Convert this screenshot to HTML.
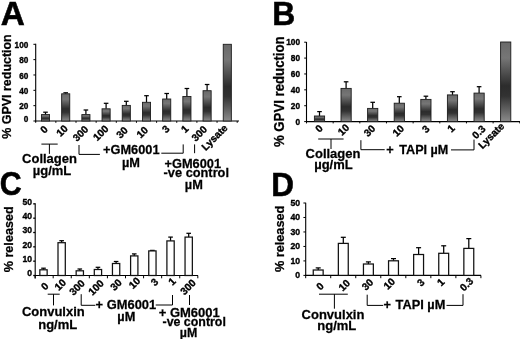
<!DOCTYPE html>
<html><head><meta charset="utf-8"><title>Figure</title>
<style>html,body{margin:0;padding:0;background:#fff;}svg{display:block;}</style></head><body>
<svg width="520" height="339" viewBox="0 0 520 339" font-family="Liberation Sans, sans-serif" font-weight="bold" fill="#000">
<defs><linearGradient id="g" x1="0" y1="0" x2="0" y2="1"><stop offset="0" stop-color="#6a6a6a"/><stop offset="0.2" stop-color="#767676"/><stop offset="0.55" stop-color="#2c2c2c"/><stop offset="0.68" stop-color="#323232"/><stop offset="1" stop-color="#8c8c8c"/></linearGradient></defs>
<rect width="520" height="339" fill="#fff"/>
<text transform="translate(0.77,24.80) scale(1.11,1.08)" font-size="30.0" stroke="#000" stroke-width="0.5">A</text>
<text transform="translate(272.17,24.80) scale(1.06,1.09)" font-size="30.0" stroke="#000" stroke-width="0.5">B</text>
<text transform="translate(-0.15,195.28) scale(1.01,1.09)" font-size="30.0" stroke="#000" stroke-width="0.5">C</text>
<text transform="translate(271.28,196.10) scale(1.05,1.11)" font-size="30.0" stroke="#000" stroke-width="0.5">D</text>
<line x1="35.7" y1="43.8" x2="35.7" y2="121.5" stroke="#000" stroke-width="1.1"/>
<line x1="35.2" y1="121.0" x2="239" y2="121.0" stroke="#000" stroke-width="1.15"/>
<line x1="33.40" y1="121.0" x2="35.7" y2="121.0" stroke="#000" stroke-width="1"/>
<text transform="translate(28.3,122.4) scale(1,1.04)" font-size="8.2" text-anchor="end" stroke="#000" stroke-width="0.35" >0</text>
<line x1="33.40" y1="105.66" x2="35.7" y2="105.66" stroke="#000" stroke-width="1"/>
<text transform="translate(28.3,109.26) scale(1,1.04)" font-size="8.2" text-anchor="end" stroke="#000" stroke-width="0.35" >20</text>
<line x1="33.40" y1="90.32" x2="35.7" y2="90.32" stroke="#000" stroke-width="1"/>
<text transform="translate(28.3,93.92) scale(1,1.04)" font-size="8.2" text-anchor="end" stroke="#000" stroke-width="0.35" >40</text>
<line x1="33.40" y1="74.98" x2="35.7" y2="74.98" stroke="#000" stroke-width="1"/>
<text transform="translate(28.3,78.58) scale(1,1.04)" font-size="8.2" text-anchor="end" stroke="#000" stroke-width="0.35" >60</text>
<line x1="33.40" y1="59.64" x2="35.7" y2="59.64" stroke="#000" stroke-width="1"/>
<text transform="translate(28.3,63.24) scale(1,1.04)" font-size="8.2" text-anchor="end" stroke="#000" stroke-width="0.35" >80</text>
<line x1="33.40" y1="44.3" x2="35.7" y2="44.3" stroke="#000" stroke-width="1"/>
<text transform="translate(28.3,47.9) scale(1,1.04)" font-size="8.2" text-anchor="end" stroke="#000" stroke-width="0.35" >100</text>
<text transform="translate(11.2,86.5) rotate(-90) scale(0.93,1)" font-size="13.4" text-anchor="middle" stroke="#000" stroke-width="0.25">% GPVI reduction</text>
<line x1="45.5" y1="112.2" x2="45.5" y2="114.6" stroke="#000" stroke-width="1.25"/>
<line x1="43.2" y1="112.2" x2="47.8" y2="112.2" stroke="#000" stroke-width="1.25"/>
<rect x="41.45" y="114.6" width="8.1" height="6.40" fill="url(#g)" stroke="#1c1c1c" stroke-width="0.9"/>
<line x1="65.7" y1="92.8" x2="65.7" y2="93.8" stroke="#000" stroke-width="1.25"/>
<line x1="63.40" y1="92.8" x2="68.0" y2="92.8" stroke="#000" stroke-width="1.25"/>
<rect x="61.65" y="93.8" width="8.1" height="27.20" fill="url(#g)" stroke="#1c1c1c" stroke-width="0.9"/>
<line x1="85.9" y1="110" x2="85.9" y2="114.6" stroke="#000" stroke-width="1.25"/>
<line x1="83.60" y1="110" x2="88.2" y2="110" stroke="#000" stroke-width="1.25"/>
<rect x="81.85" y="114.6" width="8.1" height="6.40" fill="url(#g)" stroke="#1c1c1c" stroke-width="0.9"/>
<line x1="106.1" y1="103.3" x2="106.1" y2="108.8" stroke="#000" stroke-width="1.25"/>
<line x1="103.8" y1="103.3" x2="108.40" y2="103.3" stroke="#000" stroke-width="1.25"/>
<rect x="102.05" y="108.8" width="8.1" height="12.20" fill="url(#g)" stroke="#1c1c1c" stroke-width="0.9"/>
<line x1="126.3" y1="101.3" x2="126.3" y2="105.4" stroke="#000" stroke-width="1.25"/>
<line x1="124.0" y1="101.3" x2="128.60" y2="101.3" stroke="#000" stroke-width="1.25"/>
<rect x="122.25" y="105.4" width="8.1" height="15.60" fill="url(#g)" stroke="#1c1c1c" stroke-width="0.9"/>
<line x1="146.5" y1="95.7" x2="146.5" y2="102.3" stroke="#000" stroke-width="1.25"/>
<line x1="144.2" y1="95.7" x2="148.8" y2="95.7" stroke="#000" stroke-width="1.25"/>
<rect x="142.45" y="102.3" width="8.1" height="18.70" fill="url(#g)" stroke="#1c1c1c" stroke-width="0.9"/>
<line x1="166.7" y1="93.5" x2="166.7" y2="99" stroke="#000" stroke-width="1.25"/>
<line x1="164.40" y1="93.5" x2="169.0" y2="93.5" stroke="#000" stroke-width="1.25"/>
<rect x="162.65" y="99" width="8.1" height="22.00" fill="url(#g)" stroke="#1c1c1c" stroke-width="0.9"/>
<line x1="186.9" y1="88.5" x2="186.9" y2="96.5" stroke="#000" stroke-width="1.25"/>
<line x1="184.6" y1="88.5" x2="189.20" y2="88.5" stroke="#000" stroke-width="1.25"/>
<rect x="182.85" y="96.5" width="8.1" height="24.50" fill="url(#g)" stroke="#1c1c1c" stroke-width="0.9"/>
<line x1="207.1" y1="84.5" x2="207.1" y2="90.7" stroke="#000" stroke-width="1.25"/>
<line x1="204.80" y1="84.5" x2="209.4" y2="84.5" stroke="#000" stroke-width="1.25"/>
<rect x="203.05" y="90.7" width="8.1" height="30.30" fill="url(#g)" stroke="#1c1c1c" stroke-width="0.9"/>
<rect x="223.25" y="44.3" width="8.1" height="76.70" fill="url(#g)" stroke="#1c1c1c" stroke-width="0.9"/>
<line x1="35.7" y1="121.0" x2="35.7" y2="122.8" stroke="#000" stroke-width="1"/>
<line x1="55.85" y1="121.0" x2="55.85" y2="122.8" stroke="#000" stroke-width="1"/>
<line x1="76.0" y1="121.0" x2="76.0" y2="122.8" stroke="#000" stroke-width="1"/>
<line x1="96.15" y1="121.0" x2="96.15" y2="122.8" stroke="#000" stroke-width="1"/>
<line x1="116.3" y1="121.0" x2="116.3" y2="122.8" stroke="#000" stroke-width="1"/>
<line x1="136.45" y1="121.0" x2="136.45" y2="122.8" stroke="#000" stroke-width="1"/>
<line x1="156.6" y1="121.0" x2="156.6" y2="122.8" stroke="#000" stroke-width="1"/>
<line x1="176.75" y1="121.0" x2="176.75" y2="122.8" stroke="#000" stroke-width="1"/>
<line x1="196.90" y1="121.0" x2="196.90" y2="122.8" stroke="#000" stroke-width="1"/>
<line x1="217.05" y1="121.0" x2="217.05" y2="122.8" stroke="#000" stroke-width="1"/>
<line x1="237.2" y1="121.0" x2="237.2" y2="122.8" stroke="#000" stroke-width="1"/>
<text transform="translate(43.9,129.3) rotate(-45)" font-size="10.2" text-anchor="middle" dy="0.36em" stroke="#000" stroke-width="0.35">0</text>
<text transform="translate(61.9,130.6) rotate(-45)" font-size="10.2" text-anchor="middle" dy="0.36em" stroke="#000" stroke-width="0.35">10</text>
<text transform="translate(80.4,133.3) rotate(-45)" font-size="10.2" text-anchor="middle" dy="0.36em" stroke="#000" stroke-width="0.35">300</text>
<text transform="translate(100.6,132.9) rotate(-45)" font-size="10.2" text-anchor="middle" dy="0.36em" stroke="#000" stroke-width="0.35">100</text>
<text transform="translate(121.9,132.3) rotate(-45)" font-size="10.2" text-anchor="middle" dy="0.36em" stroke="#000" stroke-width="0.35">30</text>
<text transform="translate(142.1,132.1) rotate(-45)" font-size="10.2" text-anchor="middle" dy="0.36em" stroke="#000" stroke-width="0.35">10</text>
<text transform="translate(165.7,128.8) rotate(-45)" font-size="10.2" text-anchor="middle" dy="0.36em" stroke="#000" stroke-width="0.35">3</text>
<text transform="translate(184.6,128.8) rotate(-45)" font-size="10.2" text-anchor="middle" dy="0.36em" stroke="#000" stroke-width="0.35">1</text>
<text transform="translate(199.1,133.3) rotate(-45)" font-size="10.2" text-anchor="middle" dy="0.36em" stroke="#000" stroke-width="0.35">300</text>
<text transform="translate(214.4,137.3) rotate(-45)" font-size="10.2" text-anchor="middle" dy="0.36em" stroke="#000" stroke-width="0.35">Lysate</text>
<line x1="41.4" y1="144.1" x2="57.7" y2="144.1" stroke="#000" stroke-width="1"/>
<line x1="49.4" y1="144.1" x2="49.4" y2="153.9" stroke="#000" stroke-width="1"/>
<text transform="translate(49.5,162.7) scale(1,1.04)" font-size="13" text-anchor="middle" stroke="#000" stroke-width="0.25" >Collagen</text>
<text transform="translate(52,174.7) scale(1,1.04)" font-size="13" text-anchor="middle" stroke="#000" stroke-width="0.25" >µg/mL</text>
<polyline points="79,145 79,154.4 99.9,154.4" fill="none" stroke="#000" stroke-width="1"/>
<text transform="translate(103,153.8) scale(1,1.04)" font-size="12.8" text-anchor="start" stroke="#000" stroke-width="0.25" >+GM6001</text>
<text transform="translate(131,166.6) scale(1,1.04)" font-size="12.8" text-anchor="middle" stroke="#000" stroke-width="0.25" >µM</text>
<polyline points="161.3,153.2 183.2,153.2 183.2,144.4" fill="none" stroke="#000" stroke-width="1"/>
<line x1="194.6" y1="144.4" x2="194.6" y2="153.2" stroke="#000" stroke-width="1"/>
<text transform="translate(164.5,167.8) scale(1,1.04)" font-size="12.8" text-anchor="start" stroke="#000" stroke-width="0.25" >+GM6001</text>
<text transform="translate(163.6,177.1) scale(1,1.04)" font-size="12.8" text-anchor="start" stroke="#000" stroke-width="0.25" >-ve control</text>
<text transform="translate(193.8,188.5) scale(1,1.04)" font-size="12.8" text-anchor="middle" stroke="#000" stroke-width="0.25" >µM</text>
<line x1="306.5" y1="42.0" x2="306.5" y2="122.1" stroke="#000" stroke-width="1.1"/>
<line x1="306.0" y1="121.6" x2="520" y2="121.6" stroke="#000" stroke-width="1.15"/>
<line x1="304.2" y1="121.6" x2="306.5" y2="121.6" stroke="#000" stroke-width="1"/>
<text transform="translate(300.0,124.70) scale(1,1.04)" font-size="8.3" text-anchor="end" stroke="#000" stroke-width="0.35" >0</text>
<line x1="304.2" y1="105.72" x2="306.5" y2="105.72" stroke="#000" stroke-width="1"/>
<text transform="translate(300.0,108.82) scale(1,1.04)" font-size="8.3" text-anchor="end" stroke="#000" stroke-width="0.35" >20</text>
<line x1="304.2" y1="89.84" x2="306.5" y2="89.84" stroke="#000" stroke-width="1"/>
<text transform="translate(300.0,92.94) scale(1,1.04)" font-size="8.3" text-anchor="end" stroke="#000" stroke-width="0.35" >40</text>
<line x1="304.2" y1="73.96" x2="306.5" y2="73.96" stroke="#000" stroke-width="1"/>
<text transform="translate(300.0,77.06) scale(1,1.04)" font-size="8.3" text-anchor="end" stroke="#000" stroke-width="0.35" >60</text>
<line x1="304.2" y1="58.08" x2="306.5" y2="58.08" stroke="#000" stroke-width="1"/>
<text transform="translate(300.0,61.18) scale(1,1.04)" font-size="8.3" text-anchor="end" stroke="#000" stroke-width="0.35" >80</text>
<line x1="304.2" y1="42.20" x2="306.5" y2="42.20" stroke="#000" stroke-width="1"/>
<text transform="translate(300.0,45.30) scale(1,1.04)" font-size="8.3" text-anchor="end" stroke="#000" stroke-width="0.35" >100</text>
<text transform="translate(283.8,91.7) rotate(-90) scale(0.95,1)" font-size="13.9" text-anchor="middle" stroke="#000" stroke-width="0.25">% GPVI reduction</text>
<line x1="319.5" y1="111.6" x2="319.5" y2="116.0" stroke="#000" stroke-width="1.25"/>
<line x1="317.2" y1="111.6" x2="321.8" y2="111.6" stroke="#000" stroke-width="1.25"/>
<rect x="314.40" y="116.0" width="10.2" height="5.60" fill="url(#g)" stroke="#1c1c1c" stroke-width="0.9"/>
<line x1="346.1" y1="81.8" x2="346.1" y2="88.4" stroke="#000" stroke-width="1.25"/>
<line x1="343.8" y1="81.8" x2="348.40" y2="81.8" stroke="#000" stroke-width="1.25"/>
<rect x="341.00" y="88.4" width="10.2" height="33.20" fill="url(#g)" stroke="#1c1c1c" stroke-width="0.9"/>
<line x1="372.7" y1="102.3" x2="372.7" y2="108.4" stroke="#000" stroke-width="1.25"/>
<line x1="370.4" y1="102.3" x2="375.0" y2="102.3" stroke="#000" stroke-width="1.25"/>
<rect x="367.60" y="108.4" width="10.2" height="13.20" fill="url(#g)" stroke="#1c1c1c" stroke-width="0.9"/>
<line x1="399.3" y1="96.7" x2="399.3" y2="103.2" stroke="#000" stroke-width="1.25"/>
<line x1="397.0" y1="96.7" x2="401.6" y2="96.7" stroke="#000" stroke-width="1.25"/>
<rect x="394.20" y="103.2" width="10.2" height="18.40" fill="url(#g)" stroke="#1c1c1c" stroke-width="0.9"/>
<line x1="425.9" y1="96.2" x2="425.9" y2="99.4" stroke="#000" stroke-width="1.25"/>
<line x1="423.60" y1="96.2" x2="428.2" y2="96.2" stroke="#000" stroke-width="1.25"/>
<rect x="420.80" y="99.4" width="10.2" height="22.20" fill="url(#g)" stroke="#1c1c1c" stroke-width="0.9"/>
<line x1="452.5" y1="91.7" x2="452.5" y2="94.9" stroke="#000" stroke-width="1.25"/>
<line x1="450.2" y1="91.7" x2="454.8" y2="91.7" stroke="#000" stroke-width="1.25"/>
<rect x="447.40" y="94.9" width="10.2" height="26.70" fill="url(#g)" stroke="#1c1c1c" stroke-width="0.9"/>
<line x1="479.1" y1="86.7" x2="479.1" y2="93.1" stroke="#000" stroke-width="1.25"/>
<line x1="476.8" y1="86.7" x2="481.40" y2="86.7" stroke="#000" stroke-width="1.25"/>
<rect x="474.00" y="93.1" width="10.2" height="28.50" fill="url(#g)" stroke="#1c1c1c" stroke-width="0.9"/>
<rect x="500.60" y="42" width="10.2" height="79.60" fill="url(#g)" stroke="#1c1c1c" stroke-width="0.9"/>
<line x1="306.5" y1="121.6" x2="306.5" y2="123.40" stroke="#000" stroke-width="1"/>
<line x1="333.16" y1="121.6" x2="333.16" y2="123.40" stroke="#000" stroke-width="1"/>
<line x1="359.82" y1="121.6" x2="359.82" y2="123.40" stroke="#000" stroke-width="1"/>
<line x1="386.48" y1="121.6" x2="386.48" y2="123.40" stroke="#000" stroke-width="1"/>
<line x1="413.14" y1="121.6" x2="413.14" y2="123.40" stroke="#000" stroke-width="1"/>
<line x1="439.8" y1="121.6" x2="439.8" y2="123.40" stroke="#000" stroke-width="1"/>
<line x1="466.46" y1="121.6" x2="466.46" y2="123.40" stroke="#000" stroke-width="1"/>
<line x1="493.12" y1="121.6" x2="493.12" y2="123.40" stroke="#000" stroke-width="1"/>
<line x1="519.78" y1="121.6" x2="519.78" y2="123.40" stroke="#000" stroke-width="1"/>
<text transform="translate(319.0,128.4) rotate(-45)" font-size="10.2" text-anchor="middle" dy="0.36em" stroke="#000" stroke-width="0.35">0</text>
<text transform="translate(343.4,129.6) rotate(-45)" font-size="10.2" text-anchor="middle" dy="0.36em" stroke="#000" stroke-width="0.35">10</text>
<text transform="translate(369.4,130.6) rotate(-45)" font-size="10.2" text-anchor="middle" dy="0.36em" stroke="#000" stroke-width="0.35">30</text>
<text transform="translate(398.1,130.6) rotate(-45)" font-size="10.2" text-anchor="middle" dy="0.36em" stroke="#000" stroke-width="0.35">10</text>
<text transform="translate(425.7,128.9) rotate(-45)" font-size="10.2" text-anchor="middle" dy="0.36em" stroke="#000" stroke-width="0.35">3</text>
<text transform="translate(450.9,128.5) rotate(-45)" font-size="10.2" text-anchor="middle" dy="0.36em" stroke="#000" stroke-width="0.35">1</text>
<text transform="translate(478.6,131.9) rotate(-45)" font-size="10.2" text-anchor="middle" dy="0.36em" stroke="#000" stroke-width="0.35">0.3</text>
<text transform="translate(491.1,135.6) rotate(-45)" font-size="10.2" text-anchor="middle" dy="0.36em" stroke="#000" stroke-width="0.35">Lysate</text>
<line x1="318.2" y1="139" x2="343.6" y2="139" stroke="#000" stroke-width="1"/>
<line x1="331" y1="139" x2="331" y2="149" stroke="#000" stroke-width="1"/>
<text transform="translate(333,157.8) scale(1,1.04)" font-size="13" text-anchor="middle" stroke="#000" stroke-width="0.25" >Collagen</text>
<text transform="translate(333.4,169.4) scale(1,1.04)" font-size="13" text-anchor="middle" stroke="#000" stroke-width="0.25" >µg/mL</text>
<polyline points="360.9,140.2 360.9,149.7 384.7,149.7" fill="none" stroke="#000" stroke-width="1"/>
<text transform="translate(386.3,153.5) scale(1,1.04)" font-size="12.8" text-anchor="start" stroke="#000" stroke-width="0.25" >+</text>
<text transform="translate(399.3,153.5) scale(1,1.04)" font-size="12.6" text-anchor="start" stroke="#000" stroke-width="0.25" >TAPI µM</text>
<polyline points="451,149.9 474.0,149.9 474.0,139.6" fill="none" stroke="#000" stroke-width="1"/>
<line x1="35.2" y1="203.2" x2="35.2" y2="278.5" stroke="#000" stroke-width="1.1"/>
<line x1="34.7" y1="275.5" x2="198" y2="275.5" stroke="#000" stroke-width="1.15"/>
<line x1="33.2" y1="275.5" x2="35.2" y2="275.5" stroke="#000" stroke-width="1.3"/>
<text transform="translate(32.0,276.2) scale(1,1.04)" font-size="8.6" text-anchor="end" stroke="#000" stroke-width="0.35" >0</text>
<line x1="33.2" y1="261.17" x2="35.2" y2="261.17" stroke="#000" stroke-width="1.3"/>
<text transform="translate(32.0,261.87) scale(1,1.04)" font-size="8.6" text-anchor="end" stroke="#000" stroke-width="0.35" >10</text>
<line x1="33.2" y1="246.84" x2="35.2" y2="246.84" stroke="#000" stroke-width="1.3"/>
<text transform="translate(32.0,247.54) scale(1,1.04)" font-size="8.6" text-anchor="end" stroke="#000" stroke-width="0.35" >20</text>
<line x1="33.2" y1="232.51" x2="35.2" y2="232.51" stroke="#000" stroke-width="1.3"/>
<text transform="translate(32.0,233.21) scale(1,1.04)" font-size="8.6" text-anchor="end" stroke="#000" stroke-width="0.35" >30</text>
<line x1="33.2" y1="218.18" x2="35.2" y2="218.18" stroke="#000" stroke-width="1.3"/>
<text transform="translate(32.0,218.88) scale(1,1.04)" font-size="8.6" text-anchor="end" stroke="#000" stroke-width="0.35" >40</text>
<line x1="33.2" y1="203.85" x2="35.2" y2="203.85" stroke="#000" stroke-width="1.3"/>
<text transform="translate(32.0,204.55) scale(1,1.04)" font-size="8.6" text-anchor="end" stroke="#000" stroke-width="0.35" >50</text>
<text transform="translate(12.5,239.3) rotate(-90) scale(0.95,1)" font-size="13.3" text-anchor="middle" stroke="#000" stroke-width="0.25">% released</text>
<line x1="43.5" y1="268.2" x2="43.5" y2="269.8" stroke="#000" stroke-width="1.25"/>
<line x1="41.2" y1="268.2" x2="45.8" y2="268.2" stroke="#000" stroke-width="1.25"/>
<rect x="39.85" y="269.8" width="7.3" height="5.70" fill="#fff" stroke="#111" stroke-width="1.25"/>
<line x1="61.65" y1="240.7" x2="61.65" y2="242.7" stroke="#000" stroke-width="1.25"/>
<line x1="59.35" y1="240.7" x2="63.95" y2="240.7" stroke="#000" stroke-width="1.25"/>
<rect x="58.00" y="242.7" width="7.3" height="32.80" fill="#fff" stroke="#111" stroke-width="1.25"/>
<line x1="79.8" y1="269" x2="79.8" y2="270.8" stroke="#000" stroke-width="1.25"/>
<line x1="77.5" y1="269" x2="82.1" y2="269" stroke="#000" stroke-width="1.25"/>
<rect x="76.15" y="270.8" width="7.3" height="4.70" fill="#fff" stroke="#111" stroke-width="1.25"/>
<line x1="97.95" y1="267.3" x2="97.95" y2="269.5" stroke="#000" stroke-width="1.25"/>
<line x1="95.65" y1="267.3" x2="100.25" y2="267.3" stroke="#000" stroke-width="1.25"/>
<rect x="94.30" y="269.5" width="7.3" height="6.00" fill="#fff" stroke="#111" stroke-width="1.25"/>
<line x1="116.1" y1="261.5" x2="116.1" y2="263.5" stroke="#000" stroke-width="1.25"/>
<line x1="113.8" y1="261.5" x2="118.40" y2="261.5" stroke="#000" stroke-width="1.25"/>
<rect x="112.45" y="263.5" width="7.3" height="12.00" fill="#fff" stroke="#111" stroke-width="1.25"/>
<line x1="134.25" y1="253.9" x2="134.25" y2="255.9" stroke="#000" stroke-width="1.25"/>
<line x1="131.95" y1="253.9" x2="136.55" y2="253.9" stroke="#000" stroke-width="1.25"/>
<rect x="130.60" y="255.9" width="7.3" height="19.60" fill="#fff" stroke="#111" stroke-width="1.25"/>
<line x1="152.40" y1="250.4" x2="152.40" y2="250.9" stroke="#000" stroke-width="1.25"/>
<line x1="150.10" y1="250.4" x2="154.7" y2="250.4" stroke="#000" stroke-width="1.25"/>
<rect x="148.75" y="250.9" width="7.3" height="24.60" fill="#fff" stroke="#111" stroke-width="1.25"/>
<line x1="170.55" y1="237.1" x2="170.55" y2="240.9" stroke="#000" stroke-width="1.25"/>
<line x1="168.25" y1="237.1" x2="172.85" y2="237.1" stroke="#000" stroke-width="1.25"/>
<rect x="166.90" y="240.9" width="7.3" height="34.60" fill="#fff" stroke="#111" stroke-width="1.25"/>
<line x1="188.7" y1="233.3" x2="188.7" y2="237.1" stroke="#000" stroke-width="1.25"/>
<line x1="186.40" y1="233.3" x2="191.0" y2="233.3" stroke="#000" stroke-width="1.25"/>
<rect x="185.05" y="237.1" width="7.3" height="38.40" fill="#fff" stroke="#111" stroke-width="1.25"/>
<line x1="35.1" y1="275.5" x2="35.1" y2="278.3" stroke="#000" stroke-width="1"/>
<line x1="53.18" y1="275.5" x2="53.18" y2="278.3" stroke="#000" stroke-width="1"/>
<line x1="71.26" y1="275.5" x2="71.26" y2="278.3" stroke="#000" stroke-width="1"/>
<line x1="89.34" y1="275.5" x2="89.34" y2="278.3" stroke="#000" stroke-width="1"/>
<line x1="107.42" y1="275.5" x2="107.42" y2="278.3" stroke="#000" stroke-width="1"/>
<line x1="125.5" y1="275.5" x2="125.5" y2="278.3" stroke="#000" stroke-width="1"/>
<line x1="143.58" y1="275.5" x2="143.58" y2="278.3" stroke="#000" stroke-width="1"/>
<line x1="161.66" y1="275.5" x2="161.66" y2="278.3" stroke="#000" stroke-width="1"/>
<line x1="179.74" y1="275.5" x2="179.74" y2="278.3" stroke="#000" stroke-width="1"/>
<line x1="197.82" y1="275.5" x2="197.82" y2="278.3" stroke="#000" stroke-width="1"/>
<text transform="translate(44.7,286.1) rotate(-45)" font-size="10.2" text-anchor="middle" dy="0.36em" stroke="#000" stroke-width="0.35">0</text>
<text transform="translate(60.2,284.6) rotate(-45)" font-size="10.2" text-anchor="middle" dy="0.36em" stroke="#000" stroke-width="0.35">10</text>
<text transform="translate(77.0,287.4) rotate(-45)" font-size="10.2" text-anchor="middle" dy="0.36em" stroke="#000" stroke-width="0.35">300</text>
<text transform="translate(95.8,287.3) rotate(-45)" font-size="10.2" text-anchor="middle" dy="0.36em" stroke="#000" stroke-width="0.35">100</text>
<text transform="translate(115.9,284.6) rotate(-45)" font-size="10.2" text-anchor="middle" dy="0.36em" stroke="#000" stroke-width="0.35">30</text>
<text transform="translate(134.5,283) rotate(-45)" font-size="10.2" text-anchor="middle" dy="0.36em" stroke="#000" stroke-width="0.35">10</text>
<text transform="translate(154.5,282) rotate(-45)" font-size="10.2" text-anchor="middle" dy="0.36em" stroke="#000" stroke-width="0.35">3</text>
<text transform="translate(172,281.3) rotate(-45)" font-size="10.2" text-anchor="middle" dy="0.36em" stroke="#000" stroke-width="0.35">1</text>
<text transform="translate(188,287) rotate(-45)" font-size="10.2" text-anchor="middle" dy="0.36em" stroke="#000" stroke-width="0.35">300</text>
<line x1="47.7" y1="294.2" x2="59.7" y2="294.2" stroke="#000" stroke-width="1"/>
<line x1="53.5" y1="294.2" x2="53.5" y2="305.4" stroke="#000" stroke-width="1"/>
<text transform="translate(53.3,316.2) scale(1,1.04)" font-size="13" text-anchor="middle" stroke="#000" stroke-width="0.25" >Convulxin</text>
<text transform="translate(57.7,329.3) scale(1,1.04)" font-size="13" text-anchor="middle" stroke="#000" stroke-width="0.25" >ng/mL</text>
<polyline points="81.2,294.2 81.2,305.3 95.3,305.3" fill="none" stroke="#000" stroke-width="1"/>
<text transform="translate(95.6,308.7) scale(1,1.04)" font-size="12.9" text-anchor="start" stroke="#000" stroke-width="0.25" >+ GM6001</text>
<text transform="translate(126.3,320.7) scale(1,1.04)" font-size="12.8" text-anchor="middle" stroke="#000" stroke-width="0.25" >µM</text>
<polyline points="155.7,305 172.5,305 172.5,295" fill="none" stroke="#000" stroke-width="1"/>
<line x1="189.5" y1="295" x2="189.5" y2="305" stroke="#000" stroke-width="1"/>
<text transform="translate(158.7,316.5) scale(1,1.04)" font-size="13.0" text-anchor="start" stroke="#000" stroke-width="0.25" >+ GM6001</text>
<text transform="translate(162.5,325.5) scale(1,1.04)" font-size="12.4" text-anchor="start" stroke="#000" stroke-width="0.25" >-ve control</text>
<text transform="translate(188.5,337) scale(1,1.04)" font-size="12.4" text-anchor="middle" stroke="#000" stroke-width="0.25" >µM</text>
<line x1="305.7" y1="202.8" x2="305.7" y2="275.9" stroke="#000" stroke-width="1.1"/>
<line x1="305.2" y1="275.4" x2="481" y2="275.4" stroke="#000" stroke-width="1.15"/>
<line x1="303.4" y1="275.4" x2="305.7" y2="275.4" stroke="#000" stroke-width="1"/>
<text transform="translate(300.1,278.10) scale(1,1.04)" font-size="8.7" text-anchor="end" stroke="#000" stroke-width="0.35" >0</text>
<line x1="303.4" y1="260.92" x2="305.7" y2="260.92" stroke="#000" stroke-width="1"/>
<text transform="translate(300.1,263.62) scale(1,1.04)" font-size="8.7" text-anchor="end" stroke="#000" stroke-width="0.35" >10</text>
<line x1="303.4" y1="246.44" x2="305.7" y2="246.44" stroke="#000" stroke-width="1"/>
<text transform="translate(300.1,249.14) scale(1,1.04)" font-size="8.7" text-anchor="end" stroke="#000" stroke-width="0.35" >20</text>
<line x1="303.4" y1="231.96" x2="305.7" y2="231.96" stroke="#000" stroke-width="1"/>
<text transform="translate(300.1,234.66) scale(1,1.04)" font-size="8.7" text-anchor="end" stroke="#000" stroke-width="0.35" >30</text>
<line x1="303.4" y1="217.48" x2="305.7" y2="217.48" stroke="#000" stroke-width="1"/>
<text transform="translate(300.1,220.18) scale(1,1.04)" font-size="8.7" text-anchor="end" stroke="#000" stroke-width="0.35" >40</text>
<line x1="303.4" y1="203.0" x2="305.7" y2="203.0" stroke="#000" stroke-width="1"/>
<text transform="translate(300.1,205.7) scale(1,1.04)" font-size="8.7" text-anchor="end" stroke="#000" stroke-width="0.35" >50</text>
<text transform="translate(284.2,238.9) rotate(-90) scale(0.95,1)" font-size="13.4" text-anchor="middle" stroke="#000" stroke-width="0.25">% released</text>
<line x1="318.2" y1="267.9" x2="318.2" y2="270" stroke="#000" stroke-width="1.25"/>
<line x1="315.7" y1="267.9" x2="320.7" y2="267.9" stroke="#000" stroke-width="1.25"/>
<rect x="313.25" y="270" width="9.9" height="5.40" fill="#fff" stroke="#111" stroke-width="1.25"/>
<line x1="343.3" y1="237.3" x2="343.3" y2="243.4" stroke="#000" stroke-width="1.25"/>
<line x1="340.8" y1="237.3" x2="345.8" y2="237.3" stroke="#000" stroke-width="1.25"/>
<rect x="338.35" y="243.4" width="9.9" height="32.00" fill="#fff" stroke="#111" stroke-width="1.25"/>
<line x1="368.4" y1="261.9" x2="368.4" y2="264" stroke="#000" stroke-width="1.25"/>
<line x1="365.9" y1="261.9" x2="370.9" y2="261.9" stroke="#000" stroke-width="1.25"/>
<rect x="363.45" y="264" width="9.9" height="11.40" fill="#fff" stroke="#111" stroke-width="1.25"/>
<line x1="393.5" y1="258.6" x2="393.5" y2="260.8" stroke="#000" stroke-width="1.25"/>
<line x1="391.0" y1="258.6" x2="396.0" y2="258.6" stroke="#000" stroke-width="1.25"/>
<rect x="388.55" y="260.8" width="9.9" height="14.60" fill="#fff" stroke="#111" stroke-width="1.25"/>
<line x1="418.6" y1="247.7" x2="418.6" y2="254.5" stroke="#000" stroke-width="1.25"/>
<line x1="416.1" y1="247.7" x2="421.1" y2="247.7" stroke="#000" stroke-width="1.25"/>
<rect x="413.65" y="254.5" width="9.9" height="20.90" fill="#fff" stroke="#111" stroke-width="1.25"/>
<line x1="443.7" y1="245.8" x2="443.7" y2="253.3" stroke="#000" stroke-width="1.25"/>
<line x1="441.2" y1="245.8" x2="446.2" y2="245.8" stroke="#000" stroke-width="1.25"/>
<rect x="438.75" y="253.3" width="9.9" height="22.10" fill="#fff" stroke="#111" stroke-width="1.25"/>
<line x1="468.8" y1="238.6" x2="468.8" y2="248.4" stroke="#000" stroke-width="1.25"/>
<line x1="466.3" y1="238.6" x2="471.3" y2="238.6" stroke="#000" stroke-width="1.25"/>
<rect x="463.85" y="248.4" width="9.9" height="27.00" fill="#fff" stroke="#111" stroke-width="1.25"/>
<line x1="305.7" y1="275.4" x2="305.7" y2="278.2" stroke="#000" stroke-width="1"/>
<line x1="330.73" y1="275.4" x2="330.73" y2="278.2" stroke="#000" stroke-width="1"/>
<line x1="355.76" y1="275.4" x2="355.76" y2="278.2" stroke="#000" stroke-width="1"/>
<line x1="380.79" y1="275.4" x2="380.79" y2="278.2" stroke="#000" stroke-width="1"/>
<line x1="405.82" y1="275.4" x2="405.82" y2="278.2" stroke="#000" stroke-width="1"/>
<line x1="430.85" y1="275.4" x2="430.85" y2="278.2" stroke="#000" stroke-width="1"/>
<line x1="455.88" y1="275.4" x2="455.88" y2="278.2" stroke="#000" stroke-width="1"/>
<line x1="480.91" y1="275.4" x2="480.91" y2="278.2" stroke="#000" stroke-width="1"/>
<text transform="translate(319.8,286.1) rotate(-45)" font-size="10.2" text-anchor="middle" dy="0.36em" stroke="#000" stroke-width="0.35">0</text>
<text transform="translate(344.1,285.2) rotate(-45)" font-size="10.2" text-anchor="middle" dy="0.36em" stroke="#000" stroke-width="0.35">10</text>
<text transform="translate(367.4,284.4) rotate(-45)" font-size="10.2" text-anchor="middle" dy="0.36em" stroke="#000" stroke-width="0.35">30</text>
<text transform="translate(389.2,283.6) rotate(-45)" font-size="10.2" text-anchor="middle" dy="0.36em" stroke="#000" stroke-width="0.35">10</text>
<text transform="translate(420.6,282.4) rotate(-45)" font-size="10.2" text-anchor="middle" dy="0.36em" stroke="#000" stroke-width="0.35">3</text>
<text transform="translate(440.6,282.2) rotate(-45)" font-size="10.2" text-anchor="middle" dy="0.36em" stroke="#000" stroke-width="0.35">1</text>
<text transform="translate(466.5,284.1) rotate(-45)" font-size="10.2" text-anchor="middle" dy="0.36em" stroke="#000" stroke-width="0.35">0.3</text>
<line x1="319" y1="294.2" x2="347.8" y2="294.2" stroke="#000" stroke-width="1"/>
<line x1="334.4" y1="294.2" x2="334.4" y2="308.7" stroke="#000" stroke-width="1"/>
<text transform="translate(333,318.7) scale(1,1.04)" font-size="13" text-anchor="middle" stroke="#000" stroke-width="0.25" >Convulxin</text>
<text transform="translate(336.8,330) scale(1,1.04)" font-size="13" text-anchor="middle" stroke="#000" stroke-width="0.25" >ng/mL</text>
<polyline points="367.2,294.7 367.2,305.4 383.2,305.4" fill="none" stroke="#000" stroke-width="1"/>
<text transform="translate(383.6,309.2) scale(1,1.04)" font-size="12.8" text-anchor="start" stroke="#000" stroke-width="0.25" >+</text>
<text transform="translate(395.6,309.2) scale(1,1.04)" font-size="12.8" text-anchor="start" stroke="#000" stroke-width="0.25" >TAPI µM</text>
<polyline points="446.5,305.4 463.0,305.4 463.0,294.2" fill="none" stroke="#000" stroke-width="1"/>
</svg></body></html>
